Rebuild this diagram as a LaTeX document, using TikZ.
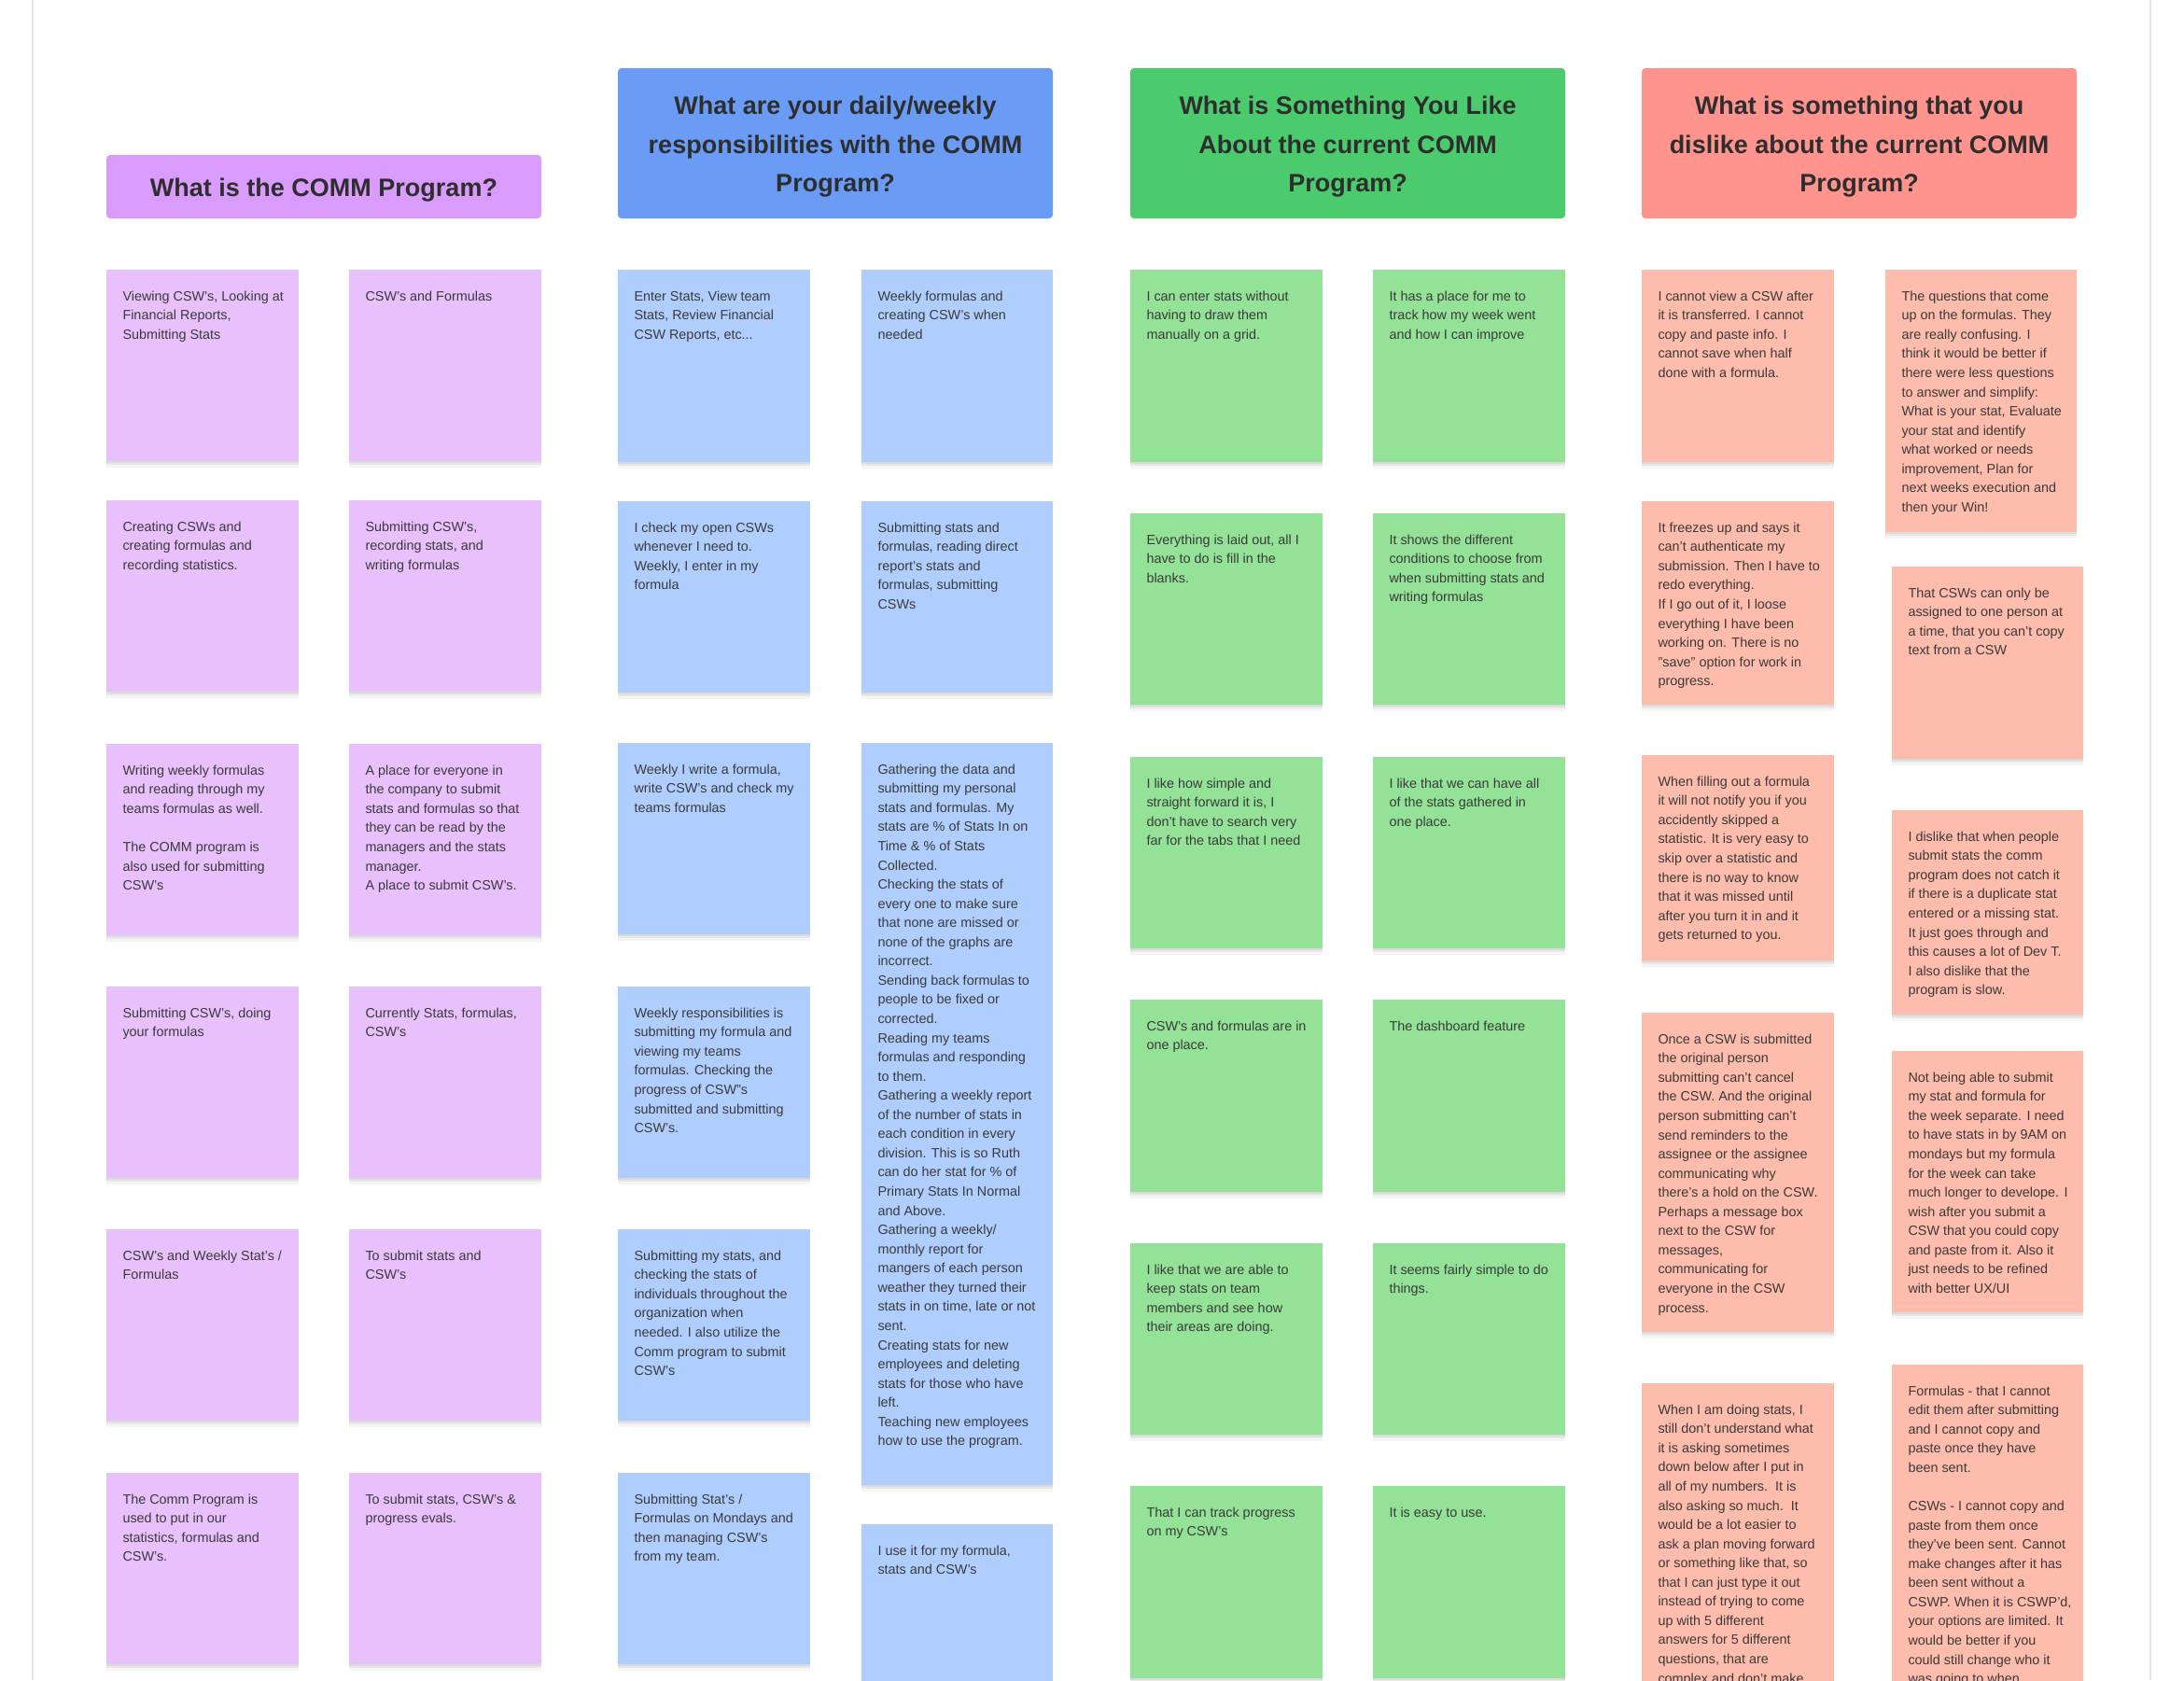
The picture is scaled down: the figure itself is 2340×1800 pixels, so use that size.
\documentclass[tikz,border=0pt]{standalone}
\usepackage{fontspec}
\setmainfont{Liberation Sans}[Ligatures=ResetAll]
\usetikzlibrary{shadows}
\definecolor{hpur}{HTML}{D99BFC}
\definecolor{spur}{HTML}{E8C0FC}
\definecolor{hblu}{HTML}{6A9CF5}
\definecolor{sblu}{HTML}{B0CEFD}
\definecolor{hgrn}{HTML}{4CCB6E}
\definecolor{sgrn}{HTML}{93E297}
\definecolor{hred}{HTML}{FF948F}
\definecolor{sred}{HTML}{FEBCAC}
\definecolor{txt}{HTML}{3A3A3A}
\definecolor{htxt}{HTML}{2E2E2E}
\definecolor{framecol}{HTML}{E6E6E6}
\tikzset{
  sticky/.style={inner sep=0pt, outer sep=0pt, draw=none,
    drop shadow={shadow xshift=0pt, shadow yshift=-3.5pt, opacity=0.04, fill=black},
    drop shadow={shadow xshift=0pt, shadow yshift=-2pt, opacity=0.05, fill=black},
    drop shadow={shadow xshift=0pt, shadow yshift=-0.8pt, opacity=0.06, fill=black}},
  stext/.style={inner sep=0pt, outer sep=0pt, align=left, text=txt,
    font=\fontsize{7.2pt}{10.28pt}\selectfont},
  headbox/.style={inner sep=0pt, outer sep=0pt, rounded corners=2pt, draw=none},
  htext/.style={inner sep=0pt, outer sep=0pt, align=center, text=htxt,
    font=\fontsize{13.5pt}{20.7pt}\selectfont\bfseries},
  frameline/.style={draw=framecol, line width=1pt}
}
% name, fill, x, y, w, h, text
\newcommand\stickynote[7]{%
  \node[sticky, fill=#2, minimum width=#5*0.5pt, minimum height=#6*0.5pt, anchor=north west] (#1) at (#3,#4) {};
  \node[stext, anchor=north west] (#1t) at ([xshift=8.75pt,yshift=-9.4pt]#1.north west) {\strut #7};%
}
\newcommand\headerbox[7]{%
  \node[headbox, fill=#2, minimum width=#5*0.5pt, minimum height=#6*0.5pt, anchor=north west] (#1) at (#3,#4) {};
  \node[htext] (#1t) at ([yshift=-1.9pt]#1.center) {#7};%
}
\begin{document}
\begin{tikzpicture}[x=0.5pt,y=-0.5pt]
\useasboundingbox (0,0) rectangle (2340,1800);
\clip (0,0) rectangle (2340,1800);
\fill[white] (0,0) rectangle (2340,1800);
\draw[frameline] (35,0) -- (35,1800);
\draw[frameline] (2304,0) -- (2304,1800);

% headers
\headerbox{h1}{hpur}{114}{166}{466}{68}{What is the COMM Program?}
\headerbox{h2}{hblu}{662}{73}{466}{161}{What are your daily/weekly\\responsibilities with the COMM\\Program?}
\headerbox{h3}{hgrn}{1211}{73}{466}{161}{What is Something You Like\\About the current COMM\\Program?}
\headerbox{h4}{hred}{1759}{73}{466}{161}{What is something that you\\dislike about the current COMM\\Program?}

% column 1: purple
\stickynote{p1}{spur}{114}{289}{206}{205}{Viewing CSW's, Looking at\\Financial Reports,\\Submitting Stats}
\stickynote{p2}{spur}{374}{289}{206}{205}{CSW's and Formulas}
\stickynote{p3}{spur}{114}{536}{206}{205}{Creating CSWs and\\creating formulas and\\recording statistics.}
\stickynote{p4}{spur}{374}{536}{206}{205}{Submitting CSW's,\\recording stats, and\\writing formulas}
\stickynote{p5}{spur}{114}{797}{206}{205}{Writing weekly formulas\\and reading through my\\teams formulas as well.\\ \strut\\The COMM program is\\also used for submitting\\CSW's}
\stickynote{p6}{spur}{374}{797}{206}{205}{A place for everyone in\\the company to submit\\stats and formulas so that\\they can be read by the\\managers and the stats\\manager.\\A place to submit CSW's.}
\stickynote{p7}{spur}{114}{1057}{206}{205}{Submitting CSW's, doing\\your formulas}
\stickynote{p8}{spur}{374}{1057}{206}{205}{Currently Stats, formulas,\\CSW's}
\stickynote{p9}{spur}{114}{1317}{206}{205}{CSW's and Weekly Stat's /\\Formulas}
\stickynote{p10}{spur}{374}{1317}{206}{205}{To submit stats and\\CSW's}
\stickynote{p11}{spur}{114}{1578}{206}{205}{The Comm Program is\\used to put in our\\statistics, formulas and\\CSW's.}
\stickynote{p12}{spur}{374}{1578}{206}{205}{To submit stats, CSW's \&\\progress evals.}

% column 2: blue
\stickynote{b1}{sblu}{662}{289}{206}{206}{Enter Stats, View team\\Stats, Review Financial\\CSW Reports, etc...}
\stickynote{b2}{sblu}{923}{289}{205}{206}{Weekly formulas and\\creating CSW's when\\needed}
\stickynote{b3}{sblu}{662}{537}{206}{205}{I check my open CSWs\\whenever I need to.\\Weekly, I enter in my\\formula}
\stickynote{b4}{sblu}{923}{537}{205}{205}{Submitting stats and\\formulas, reading direct\\report's stats and\\formulas, submitting\\CSWs}
\stickynote{b5}{sblu}{662}{796}{206}{205}{Weekly I write a formula,\\write CSW's and check my\\teams formulas}
\stickynote{b6}{sblu}{923}{796}{205}{795}{Gathering the data and\\submitting my personal\\stats and formulas. My\\stats are \% of Stats In on\\Time \& \% of Stats\\Collected.\\Checking the stats of\\every one to make sure\\that none are missed or\\none of the graphs are\\incorrect.\\Sending back formulas to\\people to be fixed or\\corrected.\\Reading my teams\\formulas and responding\\to them.\\Gathering a weekly report\\of the number of stats in\\each condition in every\\division. This is so Ruth\\can do her stat for \% of\\Primary Stats In Normal\\and Above.\\Gathering a weekly/\\monthly report for\\mangers of each person\\weather they turned their\\stats in on time, late or not\\sent.\\Creating stats for new\\employees and deleting\\stats for those who have\\left.\\Teaching new employees\\how to use the program.}
\stickynote{b7}{sblu}{662}{1057}{206}{205}{Weekly responsibilities is\\submitting my formula and\\viewing my teams\\formulas. Checking the\\progress of CSW"s\\submitted and submitting\\CSW's.}
\stickynote{b8}{sblu}{662}{1317}{206}{205}{Submitting my stats, and\\checking the stats of\\individuals throughout the\\organization when\\needed. I also utilize the\\Comm program to submit\\CSW's}
\stickynote{b9}{sblu}{662}{1578}{206}{205}{Submitting Stat's /\\Formulas on Mondays and\\then managing CSW's\\from my team.}
\stickynote{b10}{sblu}{923}{1633}{205}{200}{I use it for my formula,\\stats and CSW's}

% column 3: green
\stickynote{g1}{sgrn}{1211}{289}{206}{206}{I can enter stats without\\having to draw them\\manually on a grid.}
\stickynote{g2}{sgrn}{1471}{289}{206}{206}{It has a place for me to\\track how my week went\\and how I can improve}
\stickynote{g3}{sgrn}{1211}{550}{206}{205}{Everything is laid out, all I\\have to do is fill in the\\blanks.}
\stickynote{g4}{sgrn}{1471}{550}{206}{205}{It shows the different\\conditions to choose from\\when submitting stats and\\writing formulas}
\stickynote{g5}{sgrn}{1211}{811}{206}{205}{I like how simple and\\straight forward it is, I\\don't have to search very\\far for the tabs that I need}
\stickynote{g6}{sgrn}{1471}{811}{206}{205}{I like that we can have all\\of the stats gathered in\\one place.}
\stickynote{g7}{sgrn}{1211}{1071}{206}{206}{CSW's and formulas are in\\one place.}
\stickynote{g8}{sgrn}{1471}{1071}{206}{206}{The dashboard feature}
\stickynote{g9}{sgrn}{1211}{1332}{206}{205}{I like that we are able to\\keep stats on team\\members and see how\\their areas are doing.}
\stickynote{g10}{sgrn}{1471}{1332}{206}{205}{It seems fairly simple to do\\things.}
\stickynote{g11}{sgrn}{1211}{1592}{206}{206}{That I can track progress\\on my CSW's}
\stickynote{g12}{sgrn}{1471}{1592}{206}{206}{It is easy to use.}

% column 4: red
\stickynote{r1}{sred}{1759}{289}{206}{206}{I cannot view a CSW after\\it is transferred. I cannot\\copy and paste info. I\\cannot save when half\\done with a formula.}
\stickynote{r2}{sred}{2020}{289}{205}{281}{The questions that come\\up on the formulas. They\\are really confusing. I\\think it would be better if\\there were less questions\\to answer and simplify:\\What is your stat, Evaluate\\your stat and identify\\what worked or needs\\improvement, Plan for\\next weeks execution and\\then your Win!}
\stickynote{r3}{sred}{1759}{537}{206}{218}{It freezes up and says it\\can't authenticate my\\submission. Then I have to\\redo everything.\\If I go out of it, I loose\\everything I have been\\working on. There is no\\"save" option for work in\\progress.}
\stickynote{r4}{sred}{2027}{607}{205}{206}{That CSWs can only be\\assigned to one person at\\a time, that you can't copy\\text from a CSW}
\stickynote{r5}{sred}{1759}{809}{206}{220}{When filling out a formula\\it will not notify you if you\\accidently skipped a\\statistic. It is very easy to\\skip over a statistic and\\there is no way to know\\that it was missed until\\after you turn it in and it\\gets returned to you.}
\stickynote{r6}{sred}{2027}{868}{205}{219}{I dislike that when people\\submit stats the comm\\program does not catch it\\if there is a duplicate stat\\entered or a missing stat.\\It just goes through and\\this causes a lot of Dev T.\\I also dislike that the\\program is slow.}
\stickynote{r7}{sred}{1759}{1085}{206}{342}{Once a CSW is submitted\\the original person\\submitting can't cancel\\the CSW. And the original\\person submitting can't\\send reminders to the\\assignee or the assignee\\communicating why\\there's a hold on the CSW.\\Perhaps a message box\\next to the CSW for\\messages,\\communicating for\\everyone in the CSW\\process.}
\stickynote{r8}{sred}{2027}{1126}{205}{280}{Not being able to submit\\my stat and formula for\\the week separate. I need\\to have stats in by 9AM on\\mondays but my formula\\for the week can take\\much longer to develope. I\\wish after you submit a\\CSW that you could copy\\and paste from it. Also it\\just needs to be refined\\with better UX/UI}
\stickynote{r9}{sred}{1759}{1482}{206}{340}{When I am doing stats, I\\still don't understand what\\it is asking sometimes\\down below after I put in\\all of my numbers.\ \ It is\\also asking so much.\ \ It\\would be a lot easier to\\ask a plan moving forward\\or something like that, so\\that I can just type it out\\instead of trying to come\\up with 5 different\\answers for 5 different\\questions, that are\\complex and don't make}
\stickynote{r10}{sred}{2027}{1462}{205}{360}{Formulas - that I cannot\\edit them after submitting\\and I cannot copy and\\paste once they have\\been sent.\\ \strut\\CSWs - I cannot copy and\\paste from them once\\they've been sent. Cannot\\make changes after it has\\been sent without a\\CSWP. When it is CSWP'd,\\your options are limited. It\\would be better if you\\could still change who it\\was going to when}
\end{tikzpicture}
\end{document}
